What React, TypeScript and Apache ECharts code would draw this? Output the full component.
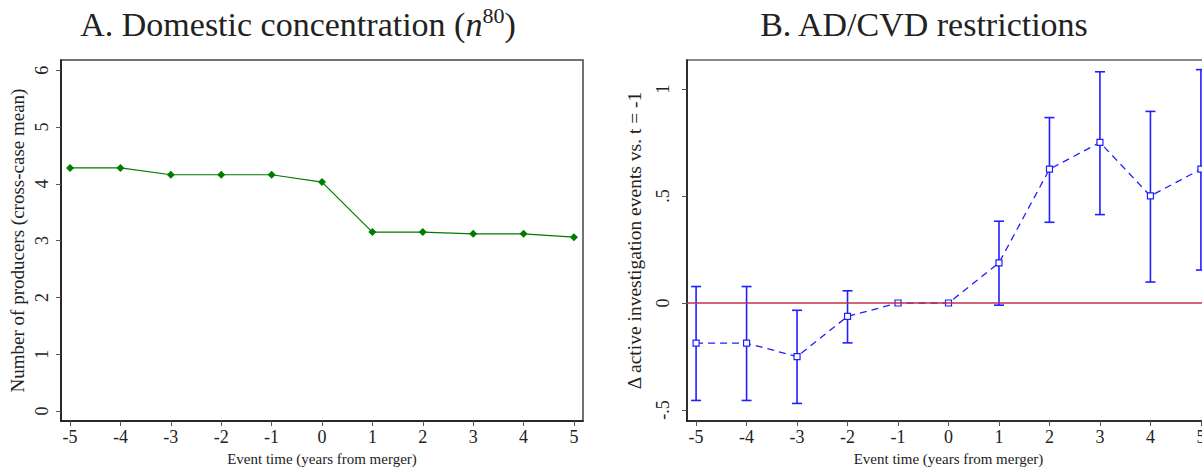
import React, { useEffect, useRef } from "react";
import * as echarts from "echarts";

const eventTimes = [-5, -4, -3, -2, -1, 0, 1, 2, 3, 4, 5];
const xTicks = [-5, -4, -3, -2, -1, 0, 1, 2, 3, 4, 5];

const producers = [4.28, 4.28, 4.16, 4.16, 4.16, 4.03, 3.15, 3.15, 3.12, 3.12, 3.06];
const leftYTicks = [0, 1, 2, 3, 4, 5, 6];

const adcvdEstimate = [-0.1875, -0.1875, -0.25, -0.0625, 0, 0, 0.1875, 0.625, 0.75, 0.5, 0.625];
const adcvdLow = [-0.455, -0.455, -0.469, -0.186, null, null, -0.01, 0.377, 0.413, 0.098, 0.154];
const adcvdHigh = [0.077, 0.077, -0.034, 0.057, null, null, 0.382, 0.866, 1.08, 0.895, 1.09];
const rightYTicks = [-0.5, 0, 0.5, 1];
const rightYTickLabels = ["-.5", "0", ".5", "1"];

const FONT = "Liberation Serif";

export default function App() {
  const ref = useRef<HTMLDivElement>(null);

  useEffect(() => {
    document.body.style.margin = "0";
    const chart = echarts.init(ref.current!, null, { renderer: "svg" });

    const xAxisCommon = (gridIndex: number) => ({
      type: "value",
      gridIndex,
      min: -5.18,
      max: 5.18,
      name: "Event time (years from merger)",
      nameLocation: "middle",
      nameGap: 30,
      nameTextStyle: { fontFamily: FONT, fontSize: 15, color: "#222" },
      axisLine: { show: true, onZero: false, lineStyle: { color: "#111", width: 1.5 } },
      axisTick: { show: true, length: 5, customValues: xTicks, lineStyle: { color: "#555", width: 1 } },
      axisLabel: {
        customValues: xTicks,
        fontFamily: FONT,
        fontSize: 18,
        color: "#222",
        margin: 7,
        formatter: (v: number) => String(v),
      },
      splitLine: { show: false },
    });

    const errData = eventTimes
      .map((t, i) => (adcvdLow[i] == null ? null : [t, adcvdLow[i], adcvdHigh[i]]))
      .filter((d) => d != null);

    const titleBase = { fontFamily: FONT, fontWeight: "normal", color: "#222", lineHeight: 40 };

    const option: any = {
      animation: false,
      backgroundColor: "#fff",
      title: [
        {
          text: "{a|A. Domestic concentration (}{i|n}{s|80}{a|)}",
          left: 293,
          top: -1,
          textAlign: "center",
          textStyle: {
            fontWeight: "normal",
            rich: {
              a: { ...titleBase, fontSize: 34 },
              i: { ...titleBase, fontSize: 34, fontStyle: "italic" },
              s: { ...titleBase, fontSize: 22, verticalAlign: "top", padding: [0, 0, 17, 0] },
            },
          },
        },
        {
          text: "B. AD/CVD restrictions",
          left: 919,
          top: -1,
          textAlign: "center",
          textStyle: { ...titleBase, fontSize: 34 },
        },
      ],
      grid: [
        { left: 61, top: 60, width: 522, height: 361, show: true, borderColor: "#444", borderWidth: 1.5, backgroundColor: "#fff", outerBoundsMode: "none" },
        { left: 687, top: 60, width: 523, height: 361, show: true, borderColor: "#888", borderWidth: 2, backgroundColor: "#fff", outerBoundsMode: "none" },
      ],
      xAxis: [xAxisCommon(0), xAxisCommon(1)],
      yAxis: [
        {
          type: "value",
          gridIndex: 0,
          min: -0.176,
          max: 6.18,
          name: "Number of producers (cross-case mean)",
          nameLocation: "middle",
          nameRotate: 90,
          nameGap: 34,
          nameTextStyle: { fontFamily: FONT, fontSize: 19, color: "#222" },
          axisLine: { show: true, onZero: false, lineStyle: { color: "#111", width: 1.5 } },
          axisTick: { show: true, length: 5, customValues: leftYTicks, lineStyle: { color: "#555" } },
          axisLabel: {
            customValues: leftYTicks,
            rotate: 90,
            fontFamily: FONT,
            fontSize: 18,
            color: "#222",
            margin: 10,
            formatter: (v: number) => String(v),
          },
          splitLine: { show: false },
        },
        {
          type: "value",
          gridIndex: 1,
          min: -0.551,
          max: 1.135,
          name: "\u0394 active investigation events vs. t = -1",
          nameLocation: "middle",
          nameRotate: 90,
          nameGap: 43,
          nameTextStyle: { fontFamily: FONT, fontSize: 19.5, color: "#222" },
          axisLine: { show: true, onZero: false, lineStyle: { color: "#111", width: 1.5 } },
          axisTick: { show: true, length: 5, customValues: rightYTicks, lineStyle: { color: "#555" } },
          axisLabel: {
            customValues: rightYTicks,
            rotate: 90,
            fontFamily: FONT,
            fontSize: 18,
            color: "#222",
            margin: 15,
            formatter: (v: number) => {
              const idx = rightYTicks.indexOf(v);
              return idx >= 0 ? rightYTickLabels[idx] : "";
            },
          },
          splitLine: { show: false },
        },
      ],
      series: [
        {
          type: "line",
          xAxisIndex: 0,
          yAxisIndex: 0,
          data: eventTimes.map((t, i) => [t, producers[i]]),
          symbol: "diamond",
          symbolSize: 8,
          itemStyle: { color: "#007a00" },
          lineStyle: { color: "#007a00", width: 1.2 },
        },
        {
          type: "line",
          xAxisIndex: 1,
          yAxisIndex: 1,
          data: [],
          markLine: {
            silent: true,
            symbol: "none",
            label: { show: false },
            lineStyle: { color: "#c0304f", width: 1.5, type: "solid" },
            data: [{ yAxis: 0 }],
          },
        },
        {
          type: "custom",
          xAxisIndex: 1,
          yAxisIndex: 1,
          data: errData,
          z: 3,
          renderItem: (params: any, api: any) => {
            const x = api.value(0);
            const lo = api.value(1);
            const hi = api.value(2);
            const pHi = api.coord([x, hi]);
            const pLo = api.coord([x, lo]);
            const w = 5;
            const style = { stroke: "#1f1fff", lineWidth: 1.6 };
            return {
              type: "group",
              children: [
                { type: "line", shape: { x1: pHi[0], y1: pHi[1], x2: pLo[0], y2: pLo[1] }, style },
                { type: "line", shape: { x1: pHi[0] - w, y1: pHi[1], x2: pHi[0] + w, y2: pHi[1] }, style },
                { type: "line", shape: { x1: pLo[0] - w, y1: pLo[1], x2: pLo[0] + w, y2: pLo[1] }, style },
              ],
            };
          },
        },
        {
          type: "line",
          xAxisIndex: 1,
          yAxisIndex: 1,
          z: 4,
          data: eventTimes.map((t, i) => [t, adcvdEstimate[i]]),
          symbol: "rect",
          symbolSize: 6,
          itemStyle: { color: "#ffffff", borderColor: "#1f1fff", borderWidth: 1.2 },
          lineStyle: { color: "#1f1fff", width: 1.3, type: [7, 5] },
        },
      ],
    };

    chart.setOption(option);
    return () => chart.dispose();
  }, []);

  return <div ref={ref} style={{ width: 1202, height: 468 }} />;
}
